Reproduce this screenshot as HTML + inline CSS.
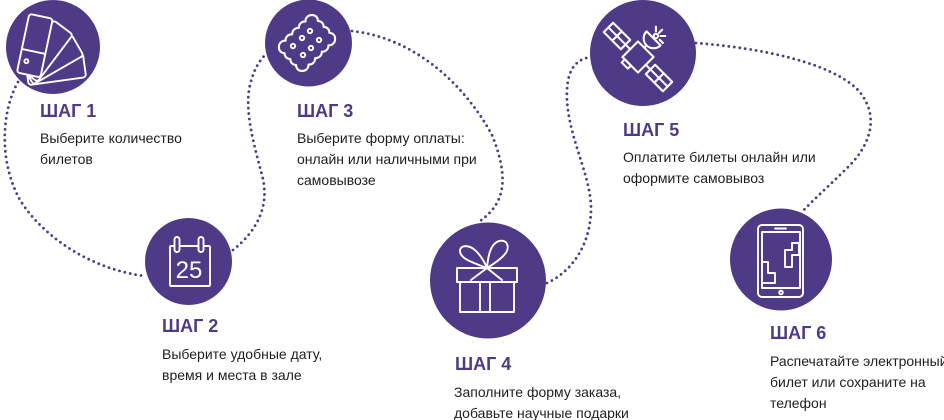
<!DOCTYPE html>
<html><head><meta charset="utf-8"><style>
html,body{margin:0;padding:0;background:#fff;}
svg{display:block;}
.h{font-family:"Liberation Sans",sans-serif;font-weight:bold;font-size:18px;fill:#4f3a87;}
.d{font-family:"Liberation Sans",sans-serif;font-size:14px;fill:#1e1e1e;}
.dot{fill:none;stroke:#4f3a87;stroke-width:2.8;stroke-linecap:round;stroke-dasharray:0 5.5;}
.ic{fill:none;stroke:#fff;stroke-width:1.9;stroke-linejoin:round;stroke-linecap:round;}
</style></head><body>
<svg width="944" height="420" viewBox="0 0 944 420" xmlns="http://www.w3.org/2000/svg">
<!-- dotted connectors -->
<path class="dot" d="M18,82 C2,110 -2,160 20,200 C45,240 95,270 145,276"/>
<path class="dot" d="M233,250 C258,230 270,205 262,175 C254,145 244,110 250,85 C253,72 258,62 266,54"/>
<path class="dot" d="M352,31 C415,38 465,85 492,135 C510,180 505,205 477,223"/>
<path class="dot" d="M547,283 C575,270 592,240 591,205 C589,170 565,130 567,90 C568,70 575,60 590,57"/>
<path class="dot" d="M696,43 C760,48 830,62 858,90 C880,115 872,145 845,170 C830,185 815,198 802,212"/>

<!-- circles -->
<circle cx="53" cy="47" r="47" fill="#4f3a87"/>
<circle cx="308.5" cy="43" r="43.5" fill="#4f3a87"/>
<circle cx="643" cy="53" r="53" fill="#4f3a87"/>
<circle cx="188.5" cy="261.5" r="43.5" fill="#4f3a87"/>
<circle cx="488" cy="280.5" r="58" fill="#4f3a87"/>
<circle cx="781" cy="259.5" r="51" fill="#4f3a87"/>

<!-- icon 1: swatch fan -->
<g transform="translate(29,73)" stroke="#fff" stroke-width="1.9" fill="#4f3a87" stroke-linejoin="round">
  <rect x="-12" y="-56" width="24" height="58" rx="3" transform="rotate(82)"/>
  <rect x="-12" y="-56" width="24" height="58" rx="3" transform="rotate(60)"/>
  <rect x="-12" y="-57" width="24" height="59" rx="3" transform="rotate(37)"/>
  <g transform="rotate(12)">
    <rect x="-12" y="-58" width="24" height="60" rx="3"/>
    <line x1="-12" y1="-22" x2="12" y2="-22"/>
    <circle cx="-5" cy="-11" r="2" fill="none"/>
  </g>
</g>

<!-- icon 3: cookie -->
<g transform="translate(307,43) rotate(-44) scale(1.1)">
  <path class="ic" stroke-width="1.75" d="M-21,-15 a5.5,5.5 0 0 1 8.4,0 a5.5,5.5 0 0 1 8.4,0 a5.5,5.5 0 0 1 8.4,0 a5.5,5.5 0 0 1 8.4,0 a5.5,5.5 0 0 1 8.4,0 a5,5 0 0 1 0,7.5 a5,5 0 0 1 0,7.5 a5,5 0 0 1 0,7.5 a5,5 0 0 1 0,7.5 a5.5,5.5 0 0 1 -8.4,0 a5.5,5.5 0 0 1 -8.4,0 a5.5,5.5 0 0 1 -8.4,0 a5.5,5.5 0 0 1 -8.4,0 a5.5,5.5 0 0 1 -8.4,0 a5,5 0 0 1 0,-7.5 a5,5 0 0 1 0,-7.5 a5,5 0 0 1 0,-7.5 a5,5 0 0 1 0,-7.5 Z"/>
</g>
<g class="ic" stroke-width="1.5">
  <circle cx="310" cy="31" r="2.2"/><circle cx="302" cy="38" r="2.2"/><circle cx="319" cy="40" r="2.2"/>
  <circle cx="293" cy="46" r="2.2"/><circle cx="311" cy="48" r="2.2"/><circle cx="303" cy="55" r="2.2"/>
</g>

<!-- icon 5: satellite -->
<g transform="translate(638,57) rotate(45) scale(1.1)" class="ic" stroke-width="1.75">
  <rect x="-38" y="-6" width="22" height="12"/>
  <line x1="-38" y1="0" x2="-16" y2="0"/><line x1="-27" y1="-6" x2="-27" y2="6"/>
  <rect x="16" y="-6" width="22" height="12"/>
  <line x1="16" y1="0" x2="38" y2="0"/><line x1="27" y1="-6" x2="27" y2="6"/>
  <line x1="-16" y1="0" x2="-10" y2="0"/><line x1="10" y1="0" x2="16" y2="0"/>
  <rect x="-10" y="-10" width="20" height="20"/>
  <rect x="-7" y="10" width="8" height="4"/>
  <path d="M-11,-22 A9,9 0 0 0 7,-22 Z"/>
  <line x1="-2" y1="-13" x2="-2" y2="-10"/>
  <circle cx="-2" cy="-25" r="2"/>
  <line x1="-2" y1="-29" x2="-2" y2="-33"/>
  <line x1="1" y1="-28" x2="4" y2="-31"/>
  <line x1="-5" y1="-28" x2="-8" y2="-31"/>
  <line x1="3" y1="-25" x2="7" y2="-25"/>
</g>

<!-- icon 2: calendar -->
<g class="ic" stroke-width="1.6">
  <rect x="170" y="246" width="40" height="40" rx="1"/>
  <rect x="174.5" y="237" width="5" height="15" rx="2.5" fill="#4f3a87"/>
  <rect x="198.5" y="237" width="5" height="15" rx="2.5" fill="#4f3a87"/>
</g>
<text x="189" y="278" text-anchor="middle" font-family="Liberation Sans, sans-serif" font-size="24" fill="#fff">25</text>

<!-- icon 4: gift -->
<g class="ic">
  <rect x="457" y="268" width="60" height="14"/>
  <rect x="460" y="282" width="54" height="30"/>
  <line x1="480" y1="282" x2="480" y2="312"/>
  <line x1="490" y1="282" x2="490" y2="312"/>
  <path d="M487,268 C474,263 460,259 460,251 C460,244 470,245 476,251 C481,256 485,263 487,268"/>
  <path d="M487,268 C488,257 490,244 499,241 C508,239 510,248 505,254 C500,260 492,265 487,268"/>
  <path d="M487,268 L471,280 M487,268 L502,280"/>
</g>

<!-- icon 6: phone -->
<g class="ic">
  <rect x="758" y="225" width="45" height="72" rx="4"/>
  <rect x="762" y="232" width="38" height="56"/>
  <line x1="775" y1="228.5" x2="786" y2="228.5"/>
  <circle cx="781" cy="292.5" r="1.8"/>
  <path d="M762,262 L768,262 L768,273 L775,273 L775,283 L762,283"/>
  <path d="M792,243 L799,243 L799,255 L792,255 L792,267 L785,267 L785,250 L792,250 Z"/>
</g>

<!-- text -->
<text class="h" x="40" y="117">ШАГ 1</text>
<text class="d" x="40" y="143">Выберите количество</text>
<text class="d" x="40" y="164">билетов</text>

<text class="h" x="297" y="117">ШАГ 3</text>
<text class="d" x="297" y="143">Выберите форму оплаты:</text>
<text class="d" x="297" y="164">онлайн или наличными при</text>
<text class="d" x="297" y="185">самовывозе</text>

<text class="h" x="623" y="136">ШАГ 5</text>
<text class="d" x="623" y="162">Оплатите билеты онлайн или</text>
<text class="d" x="623" y="183">оформите самовывоз</text>

<text class="h" x="162" y="332">ШАГ 2</text>
<text class="d" x="162" y="359">Выберите удобные дату,</text>
<text class="d" x="162" y="380">время и места в зале</text>

<text class="h" x="455" y="370">ШАГ 4</text>
<text class="d" x="454" y="397">Заполните форму заказа,</text>
<text class="d" x="454" y="418">добавьте научные подарки</text>

<text class="h" x="770" y="339">ШАГ 6</text>
<text class="d" x="770" y="366">Распечатайте электронный</text>
<text class="d" x="770" y="387">билет или сохраните на</text>
<text class="d" x="770" y="408">телефон</text>
</svg>
</body></html>
